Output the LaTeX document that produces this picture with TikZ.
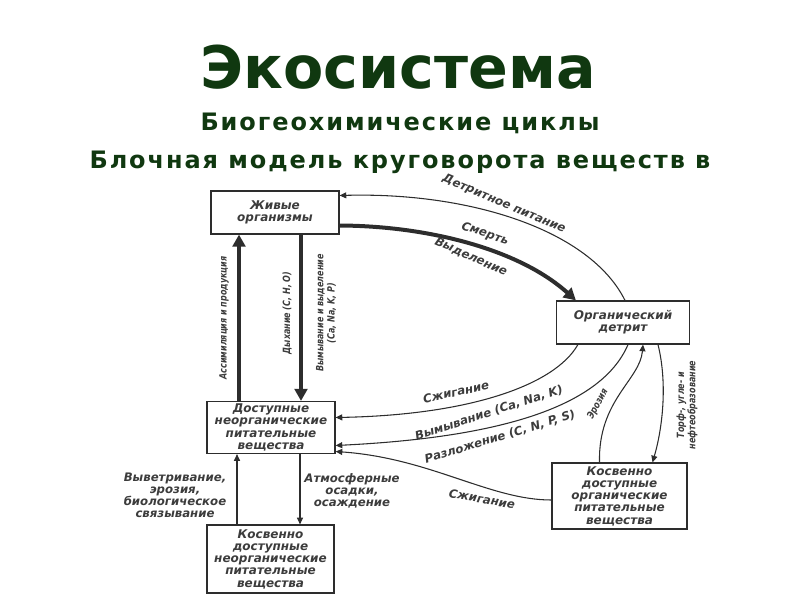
\documentclass[tikz,border=0pt]{standalone}
\usepackage{fontspec}
\setmainfont{DejaVu Sans}
\newfontfamily\subfont[LetterSpace=8]{DejaVu Sans}
\newfontfamily\dfont{DejaVu Sans}
\newfontfamily\lfont[FakeStretch=0.8]{DejaVu Sans}
\usetikzlibrary{arrows.meta,calc}
\definecolor{titlegreen}{RGB}{16,56,16}
\definecolor{ink}{RGB}{45,45,45}
\definecolor{txt}{RGB}{60,60,60}
\begin{document}
\begin{tikzpicture}[x=0.75pt,y=-0.75pt,
 box/.style={draw=ink, line width=0.9pt, fill=white, align=center, inner sep=0pt,
   font=\dfont\bfseries\itshape\fontsize{9}{9.2}\selectfont, text=txt},
 thinarr/.style={draw=ink, line width=0.8pt, -{Triangle[length=5pt,width=4.5pt]}},
 thickarr/.style={draw=ink, line width=3pt, -{Triangle[length=9pt,width=9.5pt]}},
 lab/.style={font=\lfont\bfseries\itshape\fontsize{7.5}{8.5}\selectfont, text=txt, align=center, inner sep=0pt},
 clab/.style={font=\dfont\bfseries\itshape\fontsize{8.8}{8.9}\selectfont, text=txt, align=center, inner sep=0pt},
 ttl/.style={font=\bfseries\fontsize{44}{48}\selectfont, text=titlegreen, inner sep=0pt, anchor=base},
 sub/.style={font=\subfont\bfseries\fontsize{18}{20}\selectfont, text=titlegreen, inner sep=0pt, anchor=base},
 ]
\useasboundingbox (0,0) rectangle (800,600);

% titles
\node[ttl] (t1) at (398,88) {Экосистема};
\node[sub] (t2) at (400,130) {Биогеохимические циклы};
\node[sub] (t3) at (400,168) {Блочная модель круговорота веществ в};

% boxes
\node[box, minimum width=96pt, minimum height=32.25pt] (A) at (275,212.5) {Живые\\организмы};
\node[box, minimum width=99.75pt, minimum height=32.25pt] (B) at (623,322.5) {Органический\\детрит};
\node[box, minimum width=96pt, minimum height=39pt] (C) at (271,427.5) {Доступные\\неорганические\\питательные\\вещества};
\node[box, minimum width=101.25pt, minimum height=49.5pt] (D) at (619.5,496) {Косвенно\\доступные\\органические\\питательные\\вещества};
\node[box, minimum width=95.25pt, minimum height=51pt] (E) at (270.5,559) {Косвенно\\доступные\\неорганические\\питательные\\вещества};

% x positions of vertical links
\coordinate (xu) at (239,0);
\coordinate (xd) at (301,0);
\coordinate (xl) at (237,0);
\coordinate (xr) at (300,0);

% thick vertical arrows
\draw[thickarr] (xu |- C.north) -- (xu |- A.south);
\draw[thickarr] (xd |- A.south) -- (xd |- C.north);

% thick curved arrow: death, excretion
\draw[thickarr] ($(A.east)+(0,13)$) .. controls (430,226) and (520,250) .. ($(B.north west)+(20,0)$);

% detrital feeding
\draw[thinarr] ($(B.north)+(2,0)$) .. controls (590,230) and (470,192) .. ($(A.east)+(0,-17)$);

% burning / leaching
\draw[thinarr] ($(B.south west)+(22,0)$) .. controls (555,385) and (470,415) .. ($(C.east)+(0,-10)$);
% decomposition
\draw[thinarr] ($(B.south)+(5,0)$) .. controls (600,410) and (490,438) .. ($(C.east)+(0,18)$);
% burning from D
\draw[thinarr] ($(D.west)+(0,4)$) .. controls (490,500) and (430,458) .. ($(C.east)+(0,24)$);
% erosion
\draw[thinarr] ($(D.north)+(-20,0)$) .. controls (598,400) and (640,380) .. ($(B.south)+(20,0)$);
% peat formation
\draw[thinarr] ($(B.south)+(35,0)$) .. controls (668,385) and (662,430) .. ($(D.north)+(33,0)$);

% thin vertical arrows
\draw[thinarr] (xl |- E.north) -- (xl |- C.south);
\draw[thinarr] (xr |- C.south) -- (xr |- E.north);

% labels
\node[lab, rotate=90] (l1) at (224,318) {Ассимиляция и продукция};
\node[lab, rotate=90] (l2) at (287,313) {Дыхание (C, H, O)};
\node[lab, rotate=90] (l3) at (326,313) {Вымывание и выделение\\(Ca, Na, K, P)};
\node[clab, rotate=-23] (l4) at (504,204) {Детритное питание};
\node[clab, rotate=-19] (l5) at (485,234) {Смерть};
\node[clab, rotate=-24] (l6) at (471,257) {Выделение};
\node[clab, rotate=12] (l7) at (456,392) {Сжигание};
\node[clab, rotate=18] (l8) at (489,413) {Вымывание (Ca, Na, K)};
\node[clab, rotate=17] (l9) at (500,437) {Разложение (C, N, P, S)};
\node[lab, rotate=62] (l10) at (598,404) {Эрозия};
\node[lab, rotate=90] (l11) at (687,405) {Торф-, угле- и\\нефтеобразование};
\node[clab] (l12) at (175,495) {Выветривание,\\эрозия,\\биологическое\\связывание};
\node[clab] (l13) at (352,491) {Атмосферные\\осадки,\\осаждение};
\node[clab, rotate=-10] (l14) at (482,499) {Сжигание};
\end{tikzpicture}
\end{document}
